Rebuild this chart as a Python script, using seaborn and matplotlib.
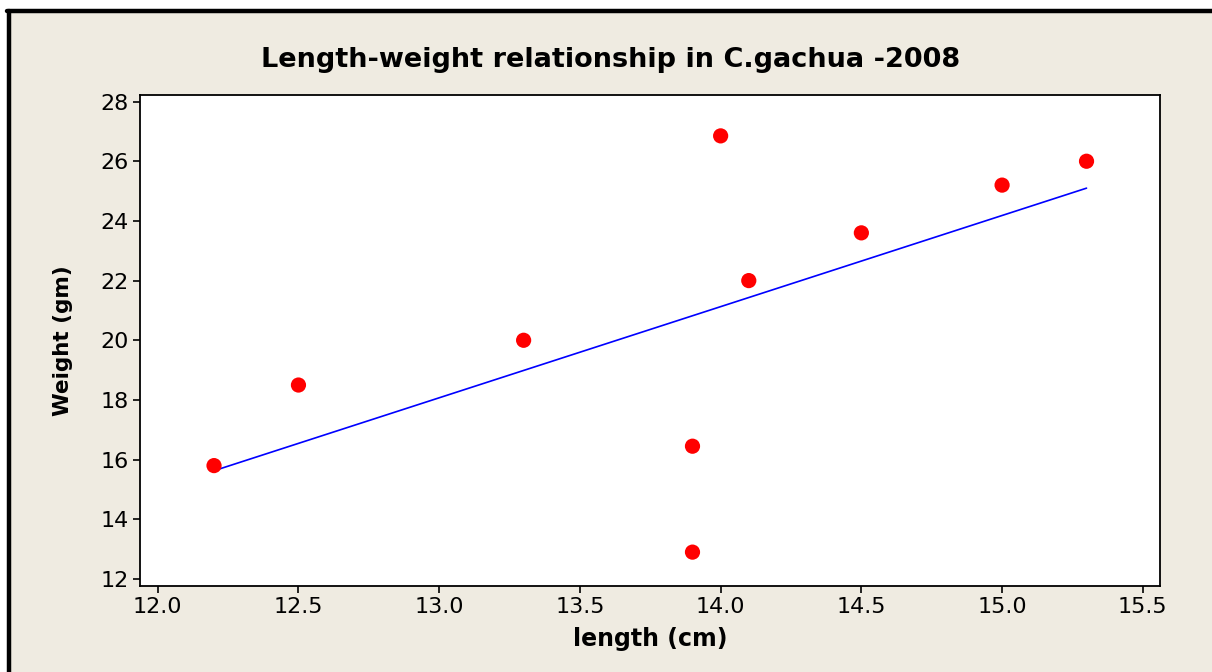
import matplotlib
matplotlib.use("Agg")
import matplotlib.pyplot as plt
import seaborn as sns
import pandas as pd
from matplotlib.patches import Rectangle
from matplotlib.lines import Line2D

length_cm = [12.2, 12.5, 13.3, 13.9, 13.9, 14.0, 14.1, 14.5, 15.0, 15.3]
weight_gm = [15.8, 18.5, 20.0, 16.45, 12.9, 26.85, 22.0, 23.6, 25.2, 26.0]
x_ticks = [12.0, 12.5, 13.0, 13.5, 14.0, 14.5, 15.0, 15.5]
y_ticks = [12, 14, 16, 18, 20, 22, 24, 26, 28]
title = "Length-weight relationship in C.gachua -2008"
xlabel = "length (cm)"
ylabel = "Weight (gm)"

df = pd.DataFrame({"length": length_cm, "weight": weight_gm})

sns.set_theme(style="ticks")
plt.rcParams["font.family"] = ["DejaVu Sans"]

W, H = 1212, 672
fig = plt.figure(figsize=(W / 100, H / 100), dpi=100)
fig.patch.set_facecolor("white")
bg = Rectangle((9 / W, 0), 1 - 9 / W, 1 - 11 / H, transform=fig.transFigure,
               facecolor="#EFEBE1", edgecolor="none", zorder=-10)
fig.add_artist(bg)
fig.add_artist(Line2D([7 / W, 1], [1 - 11 / H, 1 - 11 / H], transform=fig.transFigure,
                      color="black", lw=3.2, zorder=5))
fig.add_artist(Line2D([9 / W, 9 / W], [0, 1 - 11 / H], transform=fig.transFigure,
                      color="black", lw=3.2, zorder=5))

ax = fig.add_axes([140 / W, 1 - 585.7 / H, (1159.7 - 140) / W, (585.7 - 95) / H])
ax.set_facecolor("white")

sns.regplot(data=df, x="length", y="weight", ax=ax, ci=None,
            scatter_kws=dict(color="#FF0000", s=120, edgecolor="none", alpha=1, zorder=3),
            line_kws=dict(color="#0000FF", lw=1.2, zorder=2))

ax.set_xlim(11.937, 15.56)
ax.set_ylim(11.775, 28.22)
ax.set_xticks(x_ticks)
ax.set_xticklabels([f"{v:.1f}" for v in x_ticks])
ax.set_yticks(y_ticks)
ax.set_yticklabels([str(v) for v in y_ticks])
ax.tick_params(axis="both", direction="out", length=5, width=1.2, colors="black",
               labelsize=16, pad=3)
for s in ax.spines.values():
    s.set_visible(True)
    s.set_color("black")
    s.set_linewidth(1.3)

ax.set_xlabel(xlabel, fontsize=17, fontweight="bold", color="black", labelpad=7)
ax.set_ylabel(ylabel, fontsize=15.5, fontweight="bold", color="black", labelpad=20)
fig.text(611 / W, 1 - 60 / H, title, ha="center", va="center",
         fontsize=19.5, fontweight="bold", color="black")

fig.savefig("out.png", dpi=100, facecolor=fig.get_facecolor())
